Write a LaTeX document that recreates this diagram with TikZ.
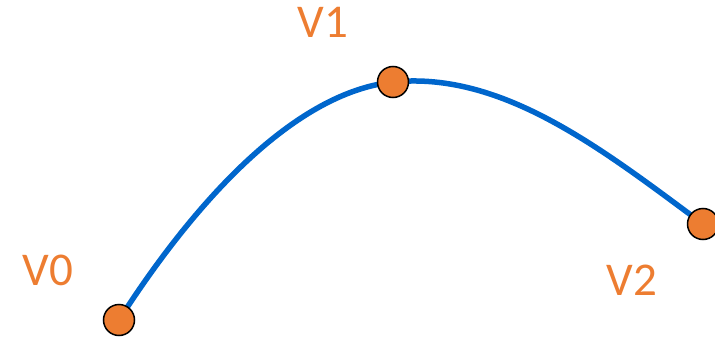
\documentclass[tikz,border=0pt]{standalone}
\usepackage{fontspec}
\setmainfont{Carlito}
\usetikzlibrary{positioning}
\definecolor{VertOrange}{HTML}{ED7D31}
\definecolor{CurveBlue}{HTML}{0066CC}

\begin{document}
\begin{tikzpicture}[x=1pt, y=-1pt, every node/.style={font=\fontsize{47}{50}\selectfont, text=VertOrange}]
  \clip (0,0) rectangle (715,337);
  \coordinate (v0) at (119,320);
  \coordinate (v1) at (393,82);
  \coordinate (v2) at (703,224);
  \draw[CurveBlue,line width=5.5pt] (v0) .. controls (179,226) and (283,94) .. (v1)
    .. controls (503,71) and (603,150) .. (v2);
  \foreach \v in {v0,v1,v2}
    \draw[fill=VertOrange,line width=1.5pt] (\v) circle (15.5);
  \node (lab0) at (48,270) {V0};
  \node (lab1) at (323,22) {V1};
  \node (lab2) at (632,280) {V2};
\end{tikzpicture}
\end{document}
